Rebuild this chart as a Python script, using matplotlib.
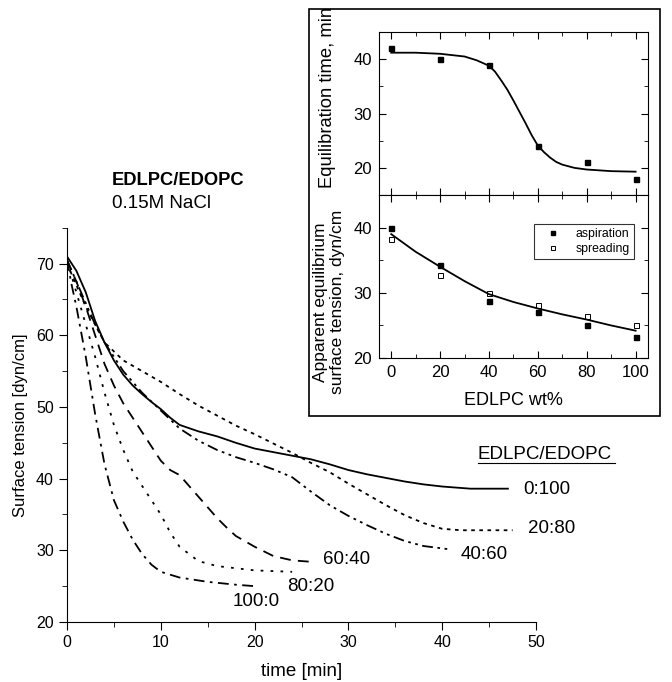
import matplotlib
matplotlib.use("Agg")
import matplotlib.pyplot as plt
from matplotlib.patches import Rectangle
from matplotlib.ticker import MultipleLocator

plt.rcParams['font.family'] = ['Liberation Sans', 'DejaVu Sans']

# main panel: surface tension vs time for each EDLPC/EDOPC ratio
t_0_100 = [0, 1, 2, 3, 4, 5, 6, 7, 8, 9, 10, 11, 12, 14, 16, 18, 20, 22, 24, 26, 28, 30, 32, 34, 36, 38, 40, 43, 47]
st_0_100 = [71, 69, 66, 62, 59, 56.5, 54.5, 53, 51.8, 50.7, 49.7, 48.5, 47.5, 46.6, 45.9, 45, 44.2, 43.7, 43.2,
            42.7, 42, 41.2, 40.6, 40.1, 39.6, 39.2, 38.9, 38.6, 38.6]
t_20_80 = [0, 2, 4, 6, 8, 10, 12, 14, 16, 18, 20, 22, 24, 26, 28, 30, 32, 34, 36, 38, 40, 42, 47.5]
st_20_80 = [70, 64, 59, 56.5, 55, 53.5, 51.8, 50.2, 48.8, 47.4, 46.2, 44.9, 43.6, 42.2, 40.9, 39.3, 37.8,
            36.3, 34.9, 33.8, 33, 32.8, 32.8]
t_40_60 = [0, 1, 2, 3, 4, 5, 6, 8, 10, 12, 14, 16, 18, 20, 22, 24, 26, 28, 30, 32, 34, 36, 38, 41]
st_40_60 = [70.5, 67.5, 64.5, 61.5, 59, 57, 55, 52, 49.5, 47, 45.3, 44, 43, 42.2, 41.3, 40.2, 38.2, 36.3,
            34.8, 33.5, 32.3, 31.3, 30.6, 30.1]
t_60_40 = [0, 1, 2, 3, 4, 5, 6, 7, 8, 9, 10, 11, 12, 13, 14, 15, 16, 17, 18, 20, 22, 24, 26]
st_60_40 = [70.5, 67.5, 64, 60, 56, 53, 50.5, 48.5, 46.5, 44.5, 42.5, 41.2, 40.5, 39, 37.5, 36, 34.5, 33.2,
            32, 30.5, 29.2, 28.6, 28.4]
t_80_20 = [0, 1, 2, 3, 4, 5, 6, 7, 8, 9, 10, 11, 12, 14, 16, 20, 24]
st_80_20 = [70.5, 66, 61.5, 57, 52, 47.5, 44, 41, 39, 37, 35, 32.5, 30.5, 28.5, 27.8, 27.2, 27]
t_100_0 = [0, 0.5, 1, 1.5, 2, 3, 4, 5, 6, 7, 8, 9, 10, 12, 15, 18, 20]
st_100_0 = [70.5, 67, 64, 60.5, 57, 49, 42, 37, 34, 31.5, 29.5, 28, 27, 26.2, 25.6, 25.2, 25]

ratio_labels = ['0:100', '20:80', '40:60', '60:40', '80:20', '100:0']

# inset data
wt = [0, 20, 40, 60, 80, 100]
eq_time = [42, 40, 39, 24, 21, 18]
fit_wt = [0, 10, 20, 30, 35, 40, 42.5, 45, 47.5, 50, 52.5, 55, 57.5, 60, 62.5, 65, 67.5, 70, 75, 80, 90, 100]
fit_time = [41.2, 41.2, 41.0, 40.5, 39.8, 38.8, 37.7, 36.1, 34.4, 32.4, 30.3, 28.2, 26.0, 24.1, 22.9, 21.9,
            21.1, 20.6, 20.0, 19.7, 19.4, 19.3]
tension_asp = [40, 34.3, 28.8, 27, 25, 23.2]
tension_spr = [38.3, 32.7, 30, 28.2, 26.5, 25]
fit_wt2 = [0, 10, 20, 30, 40, 50, 60, 70, 80, 90, 100]
fit_tension = [39, 36.3, 34, 31.8, 29.8, 28.6, 27.6, 26.7, 25.9, 25, 24.2]

fig = plt.figure(figsize=(6.72, 6.82), dpi=100)

ax = fig.add_axes([0.0997, 0.088, 0.698, 0.578])
ax.plot(t_0_100, st_0_100, color='black', lw=1.3, linestyle='-')
ax.plot(t_20_80, st_20_80, color='black', lw=1.3, linestyle=(0, (2, 2.5)))
ax.plot(t_40_60, st_40_60, color='black', lw=1.3, linestyle=(0, (6, 2.5, 1.5, 2.5, 1.5, 2.5)))
ax.plot(t_60_40, st_60_40, color='black', lw=1.3, linestyle=(0, (6, 4)))
ax.plot(t_80_20, st_80_20, color='black', lw=1.3, linestyle=(0, (1.5, 4)))
ax.plot(t_100_0, st_100_0, color='black', lw=1.3, linestyle=(0, (6, 3, 1.5, 3)))

ax.set_xlim(0, 50)
ax.set_ylim(20, 75)
ax.spines['top'].set_visible(False)
ax.spines['right'].set_visible(False)
ax.xaxis.set_major_locator(MultipleLocator(10))
ax.xaxis.set_minor_locator(MultipleLocator(5))
ax.yaxis.set_minor_locator(MultipleLocator(5))
ax.set_yticks([20, 30, 40, 50, 60, 70])
ax.tick_params(which='major', direction='out', length=6, labelsize=11.5)
ax.tick_params(which='minor', direction='out', length=3.5)
ax.set_xlabel('time [min]', fontsize=13.5, labelpad=9)
ax.set_ylabel('Surface tension [dyn/cm]', fontsize=12, labelpad=6)

label_pos = [(48.6, 38.5), (49.1, 33.1), (42.0, 29.4), (27.3, 28.7), (23.5, 24.9), (17.7, 22.8)]
for lab, (lx, ly) in zip(ratio_labels, label_pos):
    ax.text(lx, ly, lab, fontsize=13.5, va='center', ha='left', clip_on=False)
ax.text(43.8, 43.4, 'EDLPC/EDOPC', fontsize=13.5, va='center', ha='left', clip_on=False)
ax.plot([43.8, 58.4], [42.2, 42.2], color='black', lw=0.8, clip_on=False)

fig.text(0.166, 0.736, 'EDLPC/EDOPC', fontsize=13.2, fontweight='bold', va='center')
fig.text(0.166, 0.702, '0.15M NaCl', fontsize=13.5, va='center')

# inset frame
fig.patches.append(Rectangle((0.46, 0.390), 0.522, 0.597, transform=fig.transFigure,
                             facecolor='white', edgecolor='black', lw=1.2, zorder=5))

ax1 = fig.add_axes([0.564, 0.714, 0.400, 0.239], zorder=10)
ax2 = fig.add_axes([0.564, 0.475, 0.400, 0.239], zorder=10, sharex=ax1)

ax1.plot(wt, eq_time, 's', color='black', ms=3.6)
ax1.plot(fit_wt, fit_time, color='black', lw=1.3)
ax1.set_ylim(15, 45)

ax2.plot(wt, tension_asp, 's', color='black', ms=3.6, label='aspiration')
ax2.plot(wt, tension_spr, 's', color='black', mfc='white', mew=0.7, ms=3.6, label='spreading')
ax2.plot(fit_wt2, fit_tension, color='black', lw=1.3)
ax2.set_ylim(20, 45)
ax2.set_xlim(-5, 105)
ax2.set_xlabel('EDLPC wt%', fontsize=13, labelpad=9)
leg = ax2.legend(loc='upper right', bbox_to_anchor=(0.948, 0.822), fontsize=8.8, frameon=True,
                 fancybox=False, edgecolor='black', handlelength=2.4, handletextpad=0.6,
                 borderpad=0.35, labelspacing=0.2, markerscale=0.8, borderaxespad=0)
leg.get_frame().set_linewidth(0.8)

for a in (ax1, ax2):
    a.set_facecolor('white')
    a.xaxis.set_major_locator(MultipleLocator(20))
    a.xaxis.set_minor_locator(MultipleLocator(10))
    a.yaxis.set_major_locator(MultipleLocator(10))
    a.yaxis.set_minor_locator(MultipleLocator(5))
    a.tick_params(which='both', direction='in', top=True, right=True, labelsize=12)
    a.tick_params(which='major', length=5, pad=5)
    a.tick_params(which='minor', length=3)
ax1.tick_params(labelbottom=False)

fig.text(327 / 672, 1 - 97 / 682, 'Equilibration time, min', fontsize=13.2, rotation=90,
         ha='center', va='center', zorder=20)
fig.text(329 / 672, 1 - 302 / 682, 'Apparent equilibrium\nsurface tension, dyn/cm', fontsize=12.5,
         rotation=90, ha='center', va='center', multialignment='center', linespacing=1.15, zorder=20)

fig.savefig('out.png', dpi=100)
